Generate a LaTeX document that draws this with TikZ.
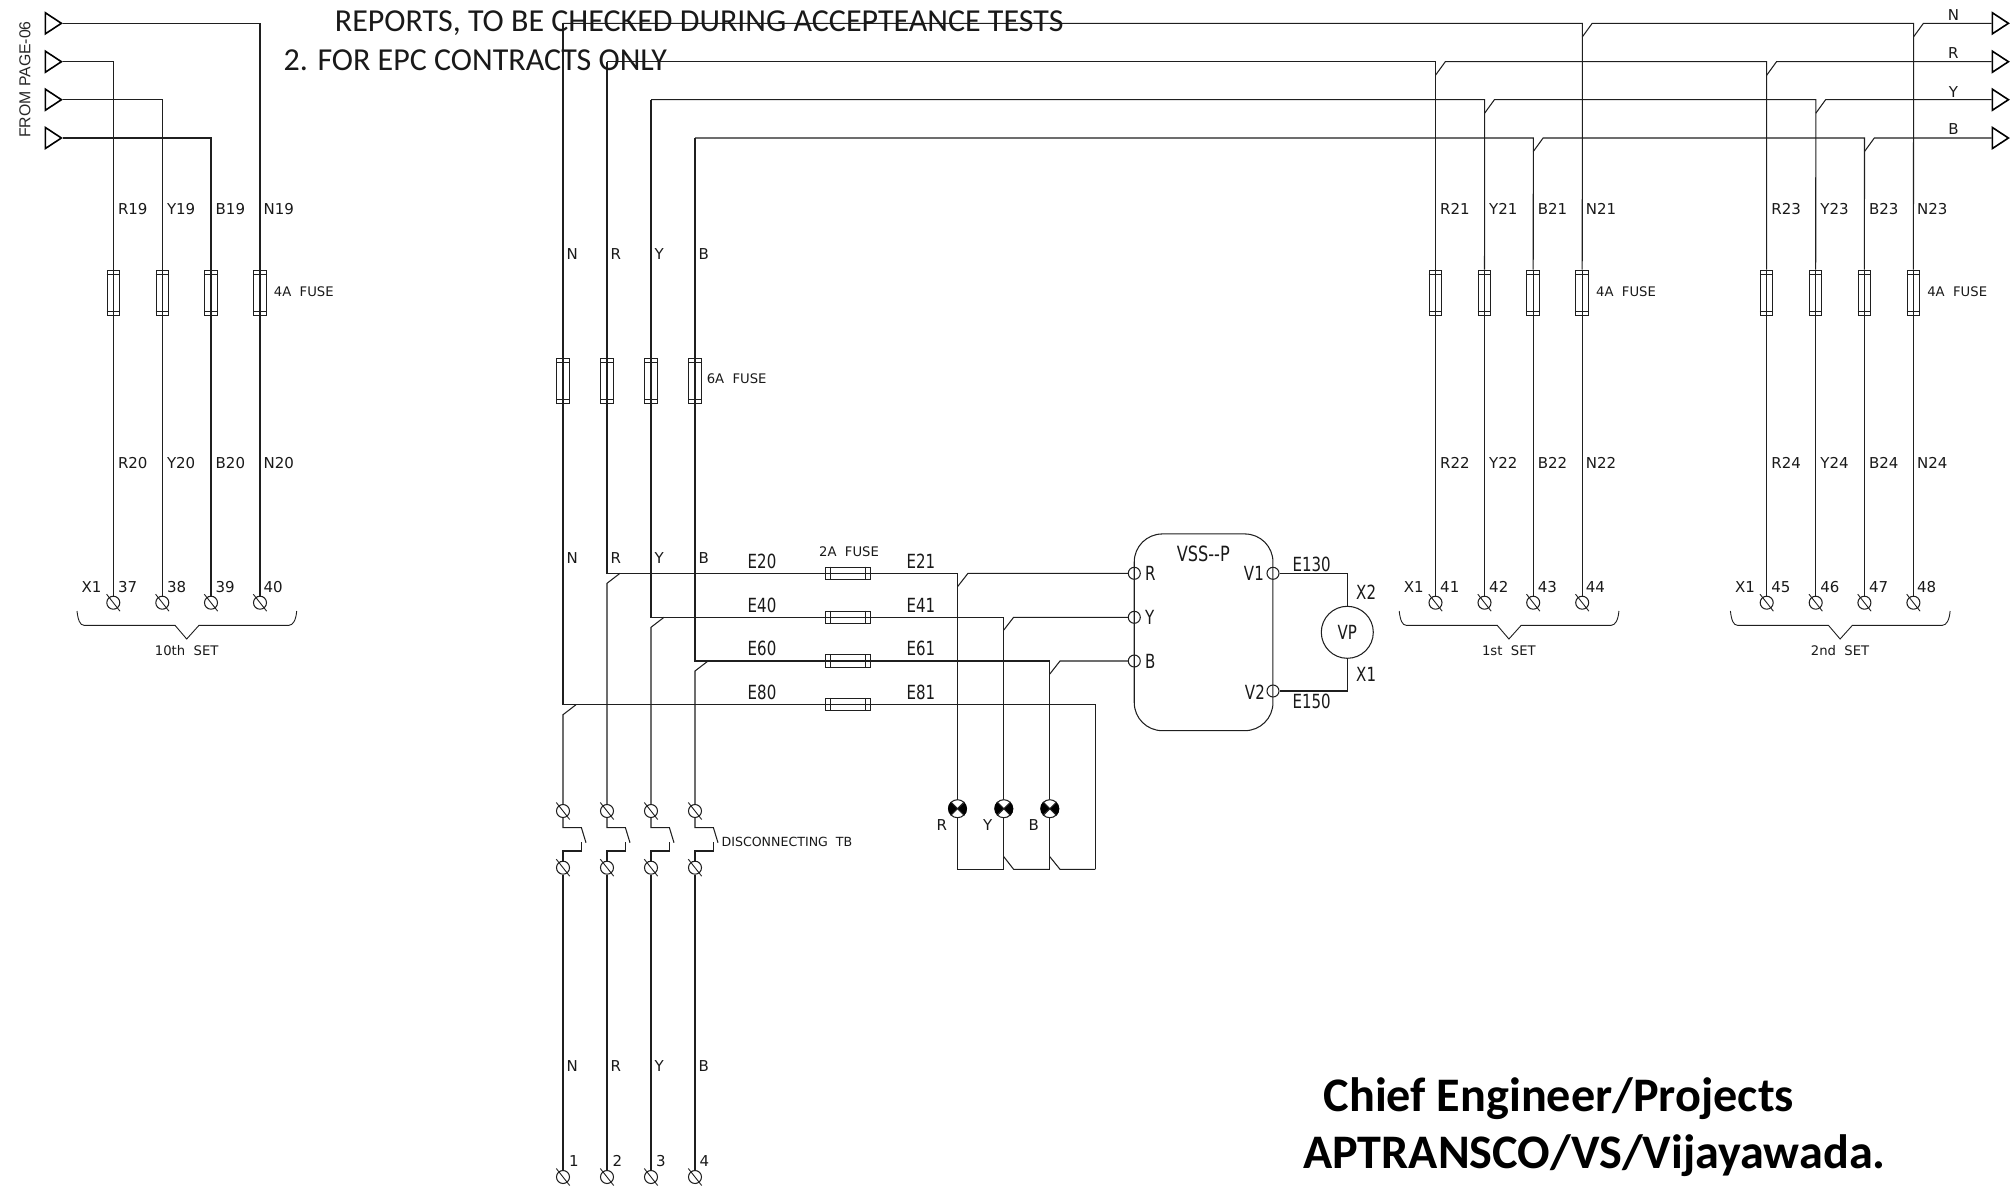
\documentclass[tikz,border=0pt]{standalone}
\usepackage{fontspec}
\usetikzlibrary{shapes.geometric}
\setmainfont{DejaVu Sans}
\newfontfamily\cadnarrow[FakeStretch=0.77]{DejaVu Sans}
\newfontfamily\callig{Carlito}
\newfontfamily\arialf{Liberation Sans}
\tikzset{
  x=1pt,y=-1pt,
  wire/.style={draw=black!88,line width=1.05pt,line join=miter},
  lbl/.style={inner sep=0pt,anchor=west,text=black!90,font=\fontsize{15}{16}\selectfont},
  small/.style={inner sep=0pt,anchor=west,text=black!90,font=\fontsize{13.2}{14}\selectfont},
  cad/.style={inner sep=0pt,text=black!90,font=\cadnarrow\fontsize{19.5}{20}\selectfont},
  tcirc/.style={circle,wire,minimum size=13pt,inner sep=0pt},
  jcirc/.style={circle,wire,minimum size=12pt,inner sep=0pt},
  tri/.style={isosceles triangle,isosceles triangle stretches,shape border rotate=0,wire,line width=1.6pt,draw=black,minimum width=21pt,minimum height=16pt,inner sep=0pt,anchor=west},
  lampc/.style={circle,wire,minimum size=18pt,inner sep=0pt},
  fusev/.style={rectangle,wire,minimum width=12.5pt,inner sep=0pt},
  fuseh/.style={rectangle,wire,minimum width=45pt,minimum height=12.5pt,inner sep=0pt},
}
\newcommand{\myterm}[3]{%
  \node[tcirc] (#1) at (#2,#3) {};
  \draw[wire,line width=0.9pt] (#1.center) +(-6.7,-8.5) -- +(6.7,8.5);
}
\newcommand{\myvfuse}[4]{%
  \node[fusev,minimum height=#4 pt] (#1) at (#2,#3) {};
  \draw[wire] (#1.north west) ++(0,5) -- ++(12.5,0);
  \draw[wire] (#1.south west) ++(0,-5) -- ++(12.5,0);
}
\newcommand{\myhfuse}[3]{%
  \node[fuseh] (#1) at (#2,#3) {};
  \draw[wire] (#1.north west) ++(5.5,0) -- ++(0,12.5);
  \draw[wire] (#1.north east) ++(-5.5,0) -- ++(0,12.5);
}
\newcommand{\mylamp}[3]{%
  \node[lampc] (#1) at (#2,#3) {};
  \fill[black] (#1.center) -- (#1.135) arc[start angle=135,end angle=225,radius=9pt] -- cycle;
  \fill[black] (#1.center) -- (#1.-45) arc[start angle=-45,end angle=45,radius=9pt] -- cycle;
  \draw[wire] (#1.45) -- (#1.225);
  \draw[wire] (#1.135) -- (#1.-45);
}
% set of four fused circuits: name, shift, upper number, lower number, first terminal, set text
\newcommand{\wireset}[6]{%
  \foreach \c/\xx/\i/\off in {R/113.3/0/4.5,Y/162.3/1/4.5,B/211/2/4.5,N/260/3/3.5}{
    \pgfmathsetmacro\X{\xx+#2}
    \pgfmathsetmacro\XL{\X+\off}
    \pgfmathtruncatemacro\T{#5+\i}
    \myvfuse{#1f\c}{\X}{293}{45.5}
    \myterm{#1t\c}{\X}{602.7}
    \node[lbl] (#1u\c) at (\XL,209) {\c#3};
    \node[lbl] (#1d\c) at (\XL,463) {\c#4};
    \node[lbl] (#1n\c) at (\XL,586.7) {\T};
    \draw[wire] (#1f\c.north) -- (#1f\c.south) -- (#1t\c);
  }
  \node[lbl] (#1x) at ({81.5+#2},586.7) {X1};
  \draw[wire,line width=0.9pt] ({77+#2},611) .. controls ({78+#2},620) and ({80+#2},625.3) .. ({84+#2},625.3) -- ({175+#2},625.3) -- ({186.7+#2},639) -- ({199+#2},625.3) -- ({289+#2},625.3) .. controls ({293+#2},625.3) and ({296+#2},620) .. ({296.7+#2},611);
  \node[small,anchor=center] (#1s) at ({186.7+#2},650.7) {#6};
  \node[small] (#1a) at ({273.7+#2},291.7) {4A\ \ FUSE};
}
\begin{document}
\begin{tikzpicture}
\useasboundingbox (0,0) rectangle (2011,1192);

% ----- left group
\foreach \c/\y in {N/23.3,R/61.7,Y/99.7,B/138}{
  \node[tri] (li\c) at (44.6,\y) {};
  \node[tri] (ro\c) at (1991.6,\y) {};
}
\node[rotate=90,inner sep=0pt,text=black!85,font=\arialf\fontsize{15.8}{16}\selectfont] (frm) at (25,79.5) {FROM PAGE-06};
\wireset{a}{0}{19}{20}{37}{10th\ \ SET}
\draw[wire] (liN.apex) -| (afN.north);
\draw[wire] (liR.apex) -| (afR.north);
\draw[wire] (liY.apex) -| (afY.north);
\draw[wire] (liB.apex) -| (afB.north);

% ----- right groups
\wireset{b}{1322.2}{21}{22}{41}{1st\ \ SET}
\wireset{c}{1653.4}{23}{24}{45}{2nd\ \ SET}
\foreach \c/\y/\xm/\bx/\cx in {N/23.3/563/1582.4/1913.6,R/61.7/607/1435.5/1766.7,Y/99.7/651/1484.6/1815.8,B/138/695/1533.3/1864.5}{
  \coordinate (top\c) at (\xm,\y);
  \coordinate (bj\c) at (\bx,\y);
  \coordinate (cj\c) at (\cx,\y);
  \draw[wire] (top\c) -- (bj\c) -- (bf\c.north);
  \draw[wire] (\bx,\y+13.5) -- (\bx+9.8,\y) -- (cj\c) -- (cf\c.north);
  \draw[wire] (\cx,\y+13.5) -- (\cx+9.8,\y) -- (ro\c.west);
}
\node[lbl,anchor=center] (ln) at (1953.4,15) {N};
\node[lbl,anchor=center] (lr) at (1953.4,53) {R};
\node[lbl,anchor=center] (ly) at (1953.4,92) {Y};
\node[lbl,anchor=center] (lb) at (1953.4,129) {B};

% ----- middle group
\foreach \c/\xx/\ye/\ea/\eb in {N/563/704.7/E80/E81,R/607/573.3/E20/E21,Y/651/617.3/E40/E41,B/695/661/E60/E61}{
  \pgfmathsetmacro\XL{\xx+3.5}
  \myvfuse{m\c}{\xx}{381}{45.5}
  \myhfuse{h\c}{848.1}{\ye}
  \myterm{u\c}{\xx}{811}
  \myterm{l\c}{\xx}{867.7}
  \myterm{e\c}{\xx}{1177}
  \draw[wire] (top\c) -- (m\c.north) -- (m\c.south) -- (\xx,\ye) -- (h\c.west) -- (h\c.east);
  \draw[wire] (\xx+13,\ye) -- (\xx,\ye+10) -- (u\c);
  \draw[wire] (u\c) -- (\xx,827.7) -- (\xx+18.4,827.7) -- (\xx+23,842.7);
  \draw[wire] (l\c) -- (\xx,851) -- (\xx+18.4,851) -- (\xx+18.4,842);
  \draw[wire] (l\c) -- (e\c);
  \node[lbl] (p\c) at (\XL,254) {\c};
  \node[lbl] (q\c) at (\XL,557.7) {\c};
  \node[lbl] (s\c) at (\XL,1066.5) {\c};
  \node[cad] (ea\c) at (762,\ye-12.3) {\ea};
  \node[cad] (eb\c) at (920.8,\ye-12.3) {\eb};
}
\node[lbl] (no1) at (569,1161) {1};
\node[lbl] (no2) at (612.5,1161) {2};
\node[lbl] (no3) at (656,1161) {3};
\node[lbl] (no4) at (699.5,1161) {4};
\node[small] (six) at (706.6,378.3) {6A\ \ FUSE};
\node[small,anchor=center] (two) at (849,552) {2A\ \ FUSE};
\node[small,font=\fontsize{12.6}{13}\selectfont] (disc) at (721.4,841.7) {DISCONNECTING\ \ TB};

% ----- VSS-P block
\node[wire,rectangle,rounded corners=28pt,minimum width=138.7pt,minimum height=196.7pt,inner sep=0pt] (vss) at (1203.6,632.3) {};
\node[jcirc] (vR) at (1134.3,573.3) {};
\node[jcirc] (vY) at (1134.3,617.3) {};
\node[jcirc] (vB) at (1134.3,661) {};
\node[jcirc] (vA) at (1273,573.3) {};
\node[jcirc] (vC) at (1273,691) {};
\node[wire,circle,minimum size=52pt,inner sep=0pt,cad] (vp) at (1347.3,632.3) {VP};
\draw[wire] (vA) -| (vp);
\draw[wire] (vC) -| (vp);
\node[cad,anchor=center,font=\cadnarrow\fontsize{21}{22}\selectfont] (vt) at (1203.3,554.3) {VSS--P};
\node[cad,anchor=west] (tR) at (1145,573.6) {R};
\node[cad,anchor=west] (tY) at (1145,617.7) {Y};
\node[cad,anchor=west] (tB) at (1145,661) {B};
\node[cad,anchor=east] (tA) at (1264,573.3) {V1};
\node[cad,anchor=east] (tC) at (1265,692.3) {V2};
\node[cad] (e13) at (1311.7,564) {E130};
\node[cad] (e15) at (1311.7,701.7) {E150};
\node[cad,anchor=west] (x2) at (1356,592.7) {X2};
\node[cad,anchor=west] (x1) at (1356,674.3) {X1};

% ----- lamps
\mylamp{lR}{957.5}{808.7}
\mylamp{lY}{1003.8}{808.7}
\mylamp{lB}{1049.8}{808.7}
\node[lbl,anchor=center] (lrr) at (941.8,825.3) {R};
\node[lbl,anchor=center] (lyy) at (987.8,825.3) {Y};
\node[lbl,anchor=center] (lbb) at (1033.7,825.3) {B};
\coordinate (bR) at (957.5,869.3);
\coordinate (bY) at (1003.8,869.3);
\coordinate (bB) at (1049.8,869.3);
\coordinate (bN) at (1095.3,869.3);
\draw[wire] (hR.east) -- (957.5,573.3) -- (lR);
\draw[wire] (hY.east) -- (1003.8,617.3) -- (lY);
\draw[wire] (hB.east) -- (1049.8,661) -- (lB);
\draw[wire] (hN.east) -- (1095.3,704.7) -- (bN);
\draw[wire] (957.5,586.7) -- (968,573.3) -- (vR);
\draw[wire] (1003.8,630) -- (1013.6,617.3) -- (vY);
\draw[wire] (1049.8,674) -- (1060,661) -- (vB);
\draw[wire] (lR) -- (bR) -- (bY) -- (lY);
\draw[wire] (lB) -- (bB);
\draw[wire] (1003.8,856.7) -- (1013.6,869.3) -- (bB);
\draw[wire] (1049.8,856.7) -- (1060,869.3) -- (bN);

% ----- overlaid texts
\node[anchor=west,inner sep=0pt,text=black!90,font=\callig\fontsize{32}{33}\selectfont] (rep) at (334.7,23.5) {REPORTS, TO BE CHECKED DURING ACCEPTEANCE TESTS};
\node[anchor=west,inner sep=0pt,text=black!90,font=\callig\fontsize{32}{33}\selectfont] (epc) at (283.4,60) {2. FOR EPC CONTRACTS ONLY};
\node[anchor=west,inner sep=0pt,font=\callig\bfseries\fontsize{48.2}{49}\selectfont] (ce) at (1323.5,1098.5) {Chief Engineer/Projects};
\node[anchor=west,inner sep=0pt,font=\callig\bfseries\fontsize{48.2}{49}\selectfont] (ap) at (1303,1155.5) {APTRANSCO/VS/Vijayawada.};
\end{tikzpicture}
\end{document}
